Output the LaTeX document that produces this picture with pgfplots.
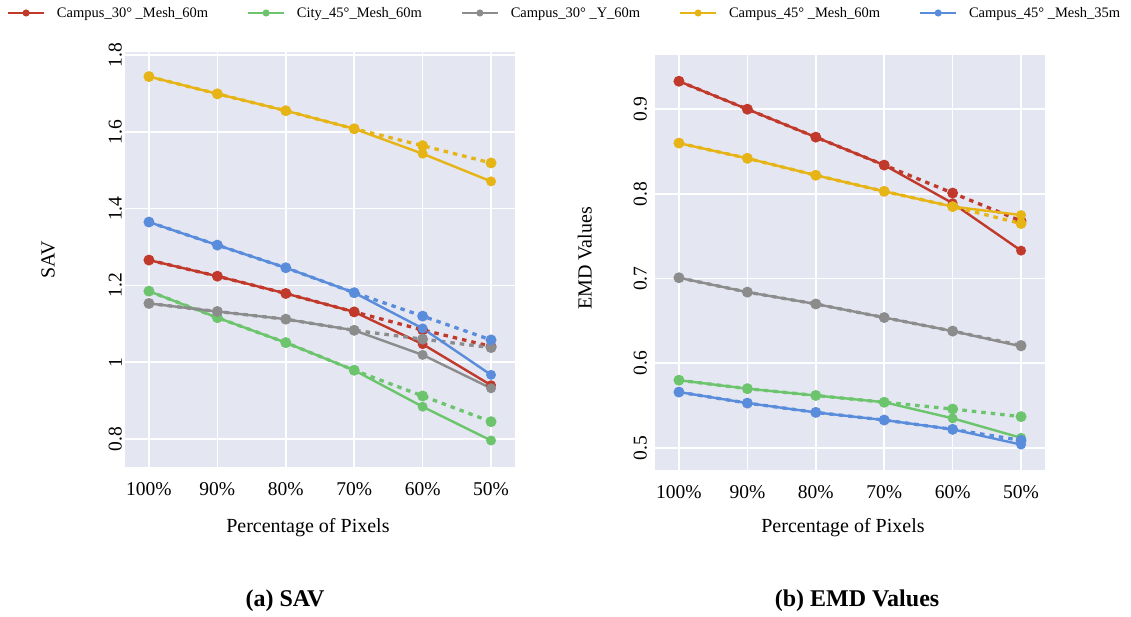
\documentclass[border=0pt]{standalone}
\usepackage{fontspec}
\setmainfont{Liberation Serif}
\usepackage{pgfplots}
\pgfplotsset{compat=1.18}
\definecolor{cRed}{HTML}{C0392B}
\definecolor{cGreen}{HTML}{6CC46C}
\definecolor{cGray}{HTML}{8C8C8C}
\definecolor{cYellow}{HTML}{E6B414}
\definecolor{cBlue}{HTML}{5A8CDC}
\definecolor{bgc}{HTML}{E4E6F2}
\pgfplotsset{
  serS/.style={line width=2.4pt, mark=*, mark size=3.7pt, mark options={solid}},
  serD/.style={line width=3.3pt, dash pattern=on 4.5pt off 5pt, mark=*, mark size=3.7pt, mark options={solid}, forget plot},
  mystyle/.style={
    scale only axis, width=390pt, height=415pt,
    xmin=-0.35, xmax=5.35,
    xtick={0,...,5}, xticklabels={100\%,90\%,80\%,70\%,60\%,50\%},
    axis background/.style={fill=bgc},
    axis line style={draw=none},
    tick style={draw=none},
    grid=major, major grid style={white, line width=1.6pt},
    tick label style={font=\fontsize{19.5}{23}\selectfont},
    /pgf/number format/assume math mode=true,
    xticklabel style={yshift=-12pt},
    label style={font=\fontsize{20}{24}\selectfont},
    xlabel={Percentage of Pixels},
  }
}
\begin{document}
\begin{tikzpicture}
\useasboundingbox (0pt,0pt) rectangle (1131pt,617pt);
\begin{axis}[mystyle, at={(125pt,150pt)}, anchor=south west,
  ymin=0.727, ymax=1.808, ytick={0.8,1,1.2,1.4,1.6,1.8},
  yticklabel style={rotate=90, anchor=south, inner sep=3pt},
  ylabel={SAV},
  xlabel style={at={(axis description cs:0.469,-0.145)}, anchor=center},
  ylabel style={at={(axis description cs:-0.197,0.5)}, anchor=center},
  legend columns=5,
  legend cell align=left,
  legend image code/.code={\draw[mark repeat=2,mark phase=2,#1,line width=1.8pt,mark size=2.6pt] plot coordinates {(0pt,0pt)(18pt,0pt)(36pt,0pt)};},
  legend style={at={(axis description cs:-0.3026,1.094)}, anchor=west, draw=none, fill=none, inner sep=0pt,
    font=\fontsize{14.5}{17}\selectfont,
    nodes={inner sep=2pt},
    /tikz/every odd column/.append style={column sep=10pt},
    /tikz/every even column/.append style={column sep=37pt}},
]
\addplot[serS, cRed] coordinates {(0,1.266)(1,1.224)(2,1.179)(3,1.131)(4,1.047)(5,0.940)};
\addlegendentry{Campus\_30° \_Mesh\_60m}
\addplot[serD, cRed] coordinates {(0,1.266)(1,1.224)(2,1.179)(3,1.131)(4,1.084)(5,1.041)};
\addplot[serS, cGreen] coordinates {(0,1.185)(1,1.116)(2,1.051)(3,0.979)(4,0.884)(5,0.796)};
\addlegendentry{City\_45°\_Mesh\_60m}
\addplot[serD, cGreen] coordinates {(0,1.185)(1,1.116)(2,1.051)(3,0.979)(4,0.912)(5,0.845)};
\addplot[serS, cGray] coordinates {(0,1.153)(1,1.132)(2,1.112)(3,1.083)(4,1.019)(5,0.932)};
\addlegendentry{Campus\_30° \_Y\_60m}
\addplot[serD, cGray] coordinates {(0,1.153)(1,1.132)(2,1.112)(3,1.083)(4,1.060)(5,1.038)};
\addplot[serS, cYellow] coordinates {(0,1.744)(1,1.699)(2,1.655)(3,1.608)(4,1.543)(5,1.471)};
\addlegendentry{Campus\_45° \_Mesh\_60m}
\addplot[serD, cYellow] coordinates {(0,1.744)(1,1.699)(2,1.655)(3,1.608)(4,1.564)(5,1.519)};
\addplot[serS, cBlue] coordinates {(0,1.365)(1,1.305)(2,1.246)(3,1.181)(4,1.088)(5,0.967)};
\addlegendentry{Campus\_45° \_Mesh\_35m}
\addplot[serD, cBlue] coordinates {(0,1.365)(1,1.305)(2,1.246)(3,1.181)(4,1.120)(5,1.058)};
\end{axis}
\begin{axis}[mystyle, at={(655pt,147pt)}, anchor=south west,
  ymin=0.474, ymax=0.964, ytick={0.5,0.6,0.7,0.8,0.9},
  yticklabel style={rotate=90, anchor=south, inner sep=8pt},
  ylabel={EMD Values},
  xlabel style={at={(axis description cs:0.482,-0.138)}, anchor=center},
  ylabel style={at={(axis description cs:-0.18,0.51)}, anchor=center},
]
\addplot[serS, cRed] coordinates {(0,0.933)(1,0.900)(2,0.867)(3,0.834)(4,0.789)(5,0.733)};
\addplot[serD, cRed] coordinates {(0,0.933)(1,0.900)(2,0.867)(3,0.834)(4,0.801)(5,0.768)};
\addplot[serS, cGreen] coordinates {(0,0.580)(1,0.570)(2,0.562)(3,0.554)(4,0.535)(5,0.512)};
\addplot[serD, cGreen] coordinates {(0,0.580)(1,0.570)(2,0.562)(3,0.554)(4,0.546)(5,0.537)};
\addplot[serS, cGray] coordinates {(0,0.701)(1,0.684)(2,0.670)(3,0.654)(4,0.638)(5,0.620)};
\addplot[serD, cGray] coordinates {(0,0.701)(1,0.684)(2,0.670)(3,0.654)(4,0.638)(5,0.621)};
\addplot[serS, cYellow] coordinates {(0,0.860)(1,0.842)(2,0.822)(3,0.803)(4,0.785)(5,0.775)};
\addplot[serD, cYellow] coordinates {(0,0.860)(1,0.842)(2,0.822)(3,0.803)(4,0.785)(5,0.765)};
\addplot[serS, cBlue] coordinates {(0,0.566)(1,0.553)(2,0.542)(3,0.533)(4,0.522)(5,0.504)};
\addplot[serD, cBlue] coordinates {(0,0.566)(1,0.553)(2,0.542)(3,0.533)(4,0.522)(5,0.509)};
\end{axis}
\node[font=\bfseries\fontsize{24}{28}\selectfont] at (285pt,16pt) {(a) SAV};
\node[font=\bfseries\fontsize{24}{28}\selectfont] at (857pt,16pt) {(b) EMD Values};
\end{tikzpicture}
\end{document}
